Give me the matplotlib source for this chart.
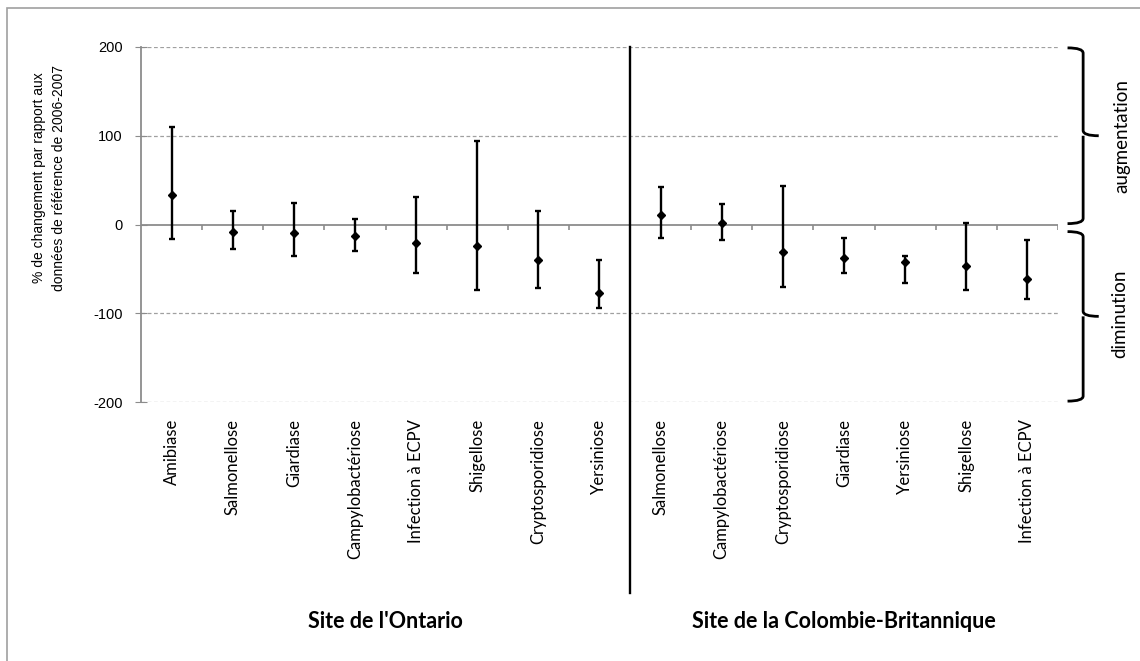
import matplotlib.pyplot as plt
import matplotlib.transforms as mtransforms
from matplotlib.path import Path
from matplotlib.patches import PathPatch
import numpy as np

# --- données ---
ontario_labels = ['Amibiase', 'Salmonellose', 'Giardiase', 'Campylobactériose',
                  'Infection à ECPV', 'Shigellose', 'Cryptosporidiose', 'Yersiniose']
ontario_val = [33, -9, -10, -13, -21, -24, -40, -77]
ontario_low = [-16, -28, -35, -30, -55, -74, -71, -94]
ontario_high = [110, 15, 24, 6, 31, 94, 15, -40]

bc_labels = ['Salmonellose', 'Campylobactériose', 'Cryptosporidiose', 'Giardiase',
             'Yersiniose', 'Shigellose', 'Infection à ECPV']
bc_val = [11, 2, -31, -38, -42, -47, -61]
bc_low = [-15, -17, -70, -55, -66, -74, -84]
bc_high = [42, 23, 43, -15, -35, 2, -17]

site_names = ["Site de l'Ontario", 'Site de la Colombie-Britannique']
y_ticks = [-200, -100, 0, 100, 200]

labels = ontario_labels + bc_labels
val = np.array(ontario_val + bc_val)
low = np.array(ontario_low + bc_low)
high = np.array(ontario_high + bc_high)
x = np.arange(1, len(labels) + 1)
n_ont = len(ontario_labels)

fig = plt.figure(figsize=(11.4, 6.61), dpi=100)
ax = fig.add_axes([0.1237, 0.3918, 0.928 - 0.1237, 0.9289 - 0.3918])

# cadre gris autour de la figure
fig.patches.append(plt.Rectangle((0.006, -0.01), 1.0, 0.998, transform=fig.transFigure,
                                 fill=False, edgecolor='#a0a0a0', linewidth=1.2))

ax.set_xlim(0.5, len(labels) + 0.5)
ax.set_ylim(-200, 200)

# grille pointillée
for yv in y_ticks:
    if yv != 0:
        ax.axhline(yv, color='#a0a0a0', linestyle=(0, (3, 2)), linewidth=0.9, zorder=1)
ax.axhline(0, color='#8c8c8c', linewidth=1.3, zorder=2)
# petites graduations sur l'axe zéro
bounds = np.arange(1.5, len(labels) + 1, 1.0)
ax.vlines(bounds, -6, 0, color='#8c8c8c', linewidth=1.2, zorder=2)

# barres d'erreur
ax.errorbar(x, val, yerr=[val - low, high - val], fmt='D', color='black',
            markersize=4.5, elinewidth=1.7, capsize=2.5, capthick=1.7, zorder=4)

# séparation des deux sites
ax.axvline(n_ont + 0.5, ymin=-0.538, ymax=1, color='black', linewidth=1.7,
           clip_on=False, zorder=5)

for side in ['top', 'right', 'bottom']:
    ax.spines[side].set_visible(False)
ax.spines['left'].set_color('#8c8c8c')
ax.spines['left'].set_linewidth(1.3)

ax.set_yticks(y_ticks)
ax.set_yticklabels([str(v) for v in y_ticks], fontfamily='Liberation Sans', fontsize=10.5)
ax.tick_params(axis='y', direction='inout', length=8, color='#8c8c8c', pad=9)

ax.set_xticks(x)
ax.set_xticklabels(labels, rotation=90, va='top', ha='center',
                   fontfamily='Lato', fontsize=12)
ax.tick_params(axis='x', length=0, pad=12)

fig.text(0.043, 1 - 178 / 661, '% de changement par rapport aux\ndonnées de référence de 2006-2007',
         rotation=90, ha='center', va='center', fontfamily='Liberation Sans',
         fontsize=10, linespacing=1.6)

# noms des sites
trans_site = mtransforms.blended_transform_factory(ax.transData, fig.transFigure)
ax.text((1 + n_ont) / 2, 1 - 622 / 661, site_names[0], transform=trans_site,
        ha='center', va='center', fontfamily='Lato', fontweight='bold', fontsize=15.5)
ax.text((n_ont + 1 + len(labels)) / 2, 1 - 622 / 661, site_names[1], transform=trans_site,
        ha='center', va='center', fontfamily='Lato', fontweight='bold', fontsize=15.5)


# accolades à droite
def draw_brace(y_top, y_bot, x0, w):
    trans = mtransforms.blended_transform_factory(ax.transAxes, ax.transData)
    xm = x0 + w * 0.5
    ym = (y_top + y_bot) / 2
    r = (y_top - y_bot) * 0.03
    verts = [(x0, y_top), (xm, y_top), (xm, y_top - r),
             (xm, ym + r), (xm, ym), (x0 + w, ym),
             (xm, ym), (xm, ym - r),
             (xm, y_bot + r), (xm, y_bot), (x0, y_bot)]
    codes = [Path.MOVETO, Path.CURVE3, Path.CURVE3,
             Path.LINETO, Path.CURVE3, Path.CURVE3,
             Path.MOVETO, Path.CURVE3,
             Path.LINETO, Path.CURVE3, Path.CURVE3]
    p = PathPatch(Path(verts, codes), transform=trans, fill=False,
                  edgecolor='black', linewidth=2, clip_on=False)
    ax.add_patch(p)


draw_brace(199, 1, 1.0105, 0.034)
draw_brace(-8, -199, 1.0105, 0.034)

trans_r = mtransforms.blended_transform_factory(fig.transFigure, ax.transData)
fig.text(1122 / 1140, 100, 'augmentation', transform=trans_r, rotation=90,
         ha='center', va='center', fontfamily='Lato', fontsize=13.5)
fig.text(1120 / 1140, -100, 'diminution', transform=trans_r, rotation=90,
         ha='center', va='center', fontfamily='Lato', fontsize=13.5)

fig.savefig('out.png', dpi=100)
